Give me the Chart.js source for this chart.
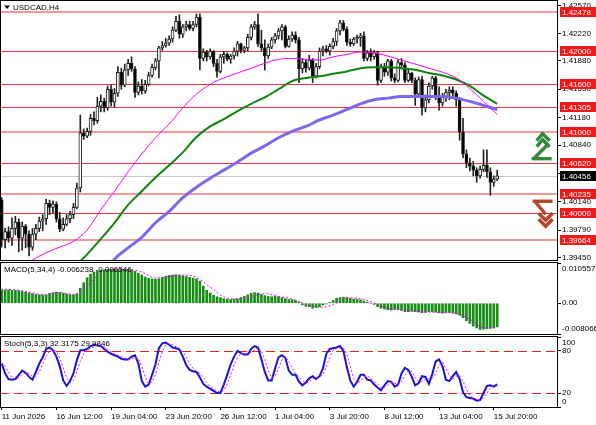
<!DOCTYPE html>
<html>
<head>
<meta charset="utf-8">
<title>USDCAD,H4</title>
<script src="https://cdn.jsdelivr.net/npm/chart.js@4.4.1/dist/chart.umd.min.js"></script>
<style>
  html, body { margin:0; padding:0; background:#fff; }
  body { position:relative; width:596px; height:425px; overflow:hidden; }
  canvas { position:absolute; left:0; }
</style>
</head>
<body>
<canvas id="mainChart" width="596" height="261" style="top:0px"></canvas>
<canvas id="macdChart" width="596" height="73" style="top:262px"></canvas>
<canvas id="stochChart" width="596" height="89" style="top:336px"></canvas>
<script>
// ---------------- DATA ----------------
const symbolTitle = "USDCAD,H4";
const macdTitle = "MACD(5,34,4) -0.006238 -0.006546";
const stochTitle = "Stoch(5,3,3) 32.3175 29.9846";

const xTickLabels = ["11 Jun 2026","16 Jun 12:00","19 Jun 04:00","23 Jun 20:00","26 Jun 12:00",
  "1 Jul 04:00","3 Jul 20:00","8 Jul 12:00","13 Jul 04:00","15 Jul 20:00"];
const barsPerXTick = 16;

const opens = [
1.4016,1.3967,1.3977,1.3969,1.3981,1.3989,1.3969,1.3984,1.3974,1.3958,
1.3974,1.3981,1.3990,1.3993,1.4012,1.4007,1.4011,1.3993,1.3980,1.3986,
1.3993,1.3998,1.4007,1.4031,1.4099,1.4095,1.4101,1.4117,1.4114,1.4132,
1.4138,1.4130,1.4153,1.4137,1.4148,1.4174,1.4158,1.4177,1.4185,1.4178,
1.4149,1.4157,1.4151,1.4159,1.4170,1.4180,1.4188,1.4204,1.4207,1.4210,
1.4215,1.4226,1.4237,1.4221,1.4230,1.4233,1.4228,1.4233,1.4242,1.4191,
1.4199,1.4193,1.4200,1.4185,1.4175,1.4193,1.4196,1.4190,1.4194,1.4200,
1.4209,1.4201,1.4204,1.4217,1.4230,1.4233,1.4209,1.4204,1.4194,1.4205,
1.4214,1.4219,1.4225,1.4230,1.4206,1.4215,1.4220,1.4214,1.4178,1.4186,
1.4179,1.4189,1.4169,1.4181,1.4200,1.4203,1.4200,1.4206,1.4212,1.4225,
1.4235,1.4227,1.4211,1.4209,1.4215,1.4217,1.4219,1.4191,1.4198,1.4193,
1.4198,1.4164,1.4180,1.4174,1.4188,1.4167,1.4164,1.4186,1.4183,1.4164,
1.4173,1.4164,1.4147,1.4165,1.4130,1.4140,1.4157,1.4167,1.4144,1.4136,
1.4144,1.4149,1.4152,1.4148,1.4140,1.4100,1.4073,1.4062,1.4058,1.4053,
1.4046,1.4054,1.4059,1.4051,1.4038,1.4042];
const highs = [
1.4019,1.3981,1.3983,1.3994,1.3996,1.3993,1.3989,1.3986,1.3978,1.3981,
1.3986,1.3995,1.3998,1.4017,1.4016,1.4015,1.4014,1.4001,1.3994,1.3998,
1.4002,1.4012,1.4037,1.4121,1.4104,1.4105,1.4122,1.4125,1.4143,1.4146,
1.4142,1.4157,1.4158,1.4154,1.4181,1.4179,1.4184,1.4190,1.4193,1.4181,
1.4162,1.4165,1.4164,1.4174,1.4184,1.4191,1.4206,1.4212,1.4216,1.4219,
1.4230,1.4243,1.4245,1.4233,1.4237,1.4237,1.4237,1.4246,1.4246,1.4203,
1.4201,1.4203,1.4201,1.4190,1.4196,1.4200,1.4198,1.4196,1.4204,1.4212,
1.4210,1.4206,1.4221,1.4233,1.4237,1.4246,1.4226,1.4214,1.4209,1.4217,
1.4222,1.4228,1.4233,1.4232,1.4219,1.4224,1.4224,1.4217,1.4191,1.4189,
1.4195,1.4191,1.4185,1.4204,1.4206,1.4207,1.4209,1.4216,1.4228,1.4238,
1.4238,1.4230,1.4215,1.4217,1.4220,1.4222,1.4224,1.4201,1.4203,1.4201,
1.4200,1.4184,1.4185,1.4190,1.4190,1.4172,1.4189,1.4191,1.4186,1.4177,
1.4174,1.4167,1.4168,1.4169,1.4146,1.4161,1.4169,1.4169,1.4156,1.4148,
1.4153,1.4156,1.4156,1.4151,1.4143,1.4117,1.4078,1.4068,1.4064,1.4056,
1.4058,1.4078,1.4078,1.4056,1.4046,1.4053];
const lows = [
1.3958,1.3957,1.3964,1.3960,1.3973,1.3952,1.3954,1.3957,1.3947,1.3954,
1.3967,1.3977,1.3978,1.3986,1.3998,1.4000,1.3989,1.3977,1.3978,1.3984,
1.3988,1.3993,1.4005,1.4026,1.4091,1.4093,1.4096,1.4109,1.4111,1.4125,
1.4125,1.4127,1.4132,1.4131,1.4144,1.4153,1.4156,1.4170,1.4175,1.4143,
1.4146,1.4147,1.4148,1.4157,1.4168,1.4177,1.4167,1.4201,1.4205,1.4207,
1.4211,1.4224,1.4216,1.4217,1.4225,1.4226,1.4225,1.4230,1.4177,1.4188,
1.4188,1.4190,1.4181,1.4168,1.4173,1.4185,1.4188,1.4185,1.4190,1.4194,
1.4198,1.4198,1.4200,1.4214,1.4227,1.4206,1.4200,1.4177,1.4191,1.4203,
1.4210,1.4215,1.4214,1.4204,1.4205,1.4212,1.4210,1.4161,1.4173,1.4174,
1.4177,1.4161,1.4167,1.4178,1.4194,1.4198,1.4195,1.4203,1.4207,1.4220,
1.4225,1.4207,1.4206,1.4207,1.4210,1.4206,1.4188,1.4188,1.4188,1.4190,
1.4158,1.4161,1.4169,1.4170,1.4163,1.4161,1.4162,1.4178,1.4161,1.4162,
1.4161,1.4133,1.4145,1.4121,1.4125,1.4136,1.4153,1.4140,1.4127,1.4132,
1.4138,1.4140,1.4144,1.4132,1.4090,1.4068,1.4056,1.4052,1.4046,1.4038,
1.4043,1.4051,1.4044,1.4022,1.4033,1.4040];
const closes = [
1.3967,1.3977,1.3969,1.3981,1.3989,1.3969,1.3984,1.3974,1.3958,1.3974,
1.3981,1.3990,1.3993,1.4012,1.4007,1.4011,1.3993,1.3980,1.3986,1.3993,
1.3998,1.4007,1.4031,1.4099,1.4095,1.4101,1.4117,1.4114,1.4132,1.4138,
1.4130,1.4153,1.4137,1.4148,1.4174,1.4158,1.4177,1.4185,1.4178,1.4149,
1.4157,1.4151,1.4159,1.4170,1.4180,1.4188,1.4204,1.4207,1.4210,1.4215,
1.4226,1.4237,1.4221,1.4230,1.4233,1.4228,1.4233,1.4242,1.4191,1.4199,
1.4193,1.4200,1.4185,1.4175,1.4193,1.4196,1.4190,1.4194,1.4200,1.4209,
1.4201,1.4204,1.4217,1.4230,1.4233,1.4209,1.4204,1.4194,1.4205,1.4214,
1.4219,1.4225,1.4230,1.4206,1.4215,1.4220,1.4214,1.4178,1.4186,1.4179,
1.4189,1.4169,1.4181,1.4200,1.4203,1.4200,1.4206,1.4212,1.4225,1.4235,
1.4227,1.4211,1.4209,1.4215,1.4217,1.4219,1.4191,1.4198,1.4193,1.4198,
1.4164,1.4180,1.4174,1.4188,1.4167,1.4164,1.4186,1.4183,1.4164,1.4173,
1.4164,1.4147,1.4165,1.4130,1.4140,1.4157,1.4167,1.4144,1.4136,1.4144,
1.4149,1.4152,1.4148,1.4140,1.4100,1.4073,1.4062,1.4058,1.4053,1.4046,
1.4054,1.4059,1.4051,1.4038,1.4042,1.4046];

// moving averages, one reading every 4 bars starting at bar 1
const maFirstBar = 1, maStep = 4;
const maPink = [1.3927,1.3933,1.3942,1.3951,1.3958,1.3965,1.3979,1.4004,1.4027,1.4051,
  1.4073,1.4093,1.4110,1.4130,1.4147,1.4159,1.4167,1.4173,1.4179,1.4185,
  1.4190,1.4191,1.4190,1.4189,1.4193,1.4196,1.4199,1.4198,1.4194,1.4189,
  1.4184,1.4179,1.4174,1.4167,1.4154,1.4138,1.4122];
const maGreen = [null,null,null,1.3880,1.3911,1.3932,1.3949,1.3968,1.3988,1.4010,
  1.4027,1.4044,1.4059,1.4075,1.4094,1.4107,1.4116,1.4126,1.4135,1.4143,
  1.4153,1.4163,1.4167,1.4169,1.4172,1.4175,1.4179,1.4180,1.4180,1.4179,
  1.4177,1.4173,1.4170,1.4165,1.4157,1.4145,1.4135];
const maBlue = [null,null,null,null,null,null,1.3893,1.3917,1.3943,1.3957,
  1.3970,1.3988,1.4002,1.4019,1.4032,1.4043,1.4053,1.4063,1.4074,1.4083,
  1.4093,1.4101,1.4107,1.4115,1.4121,1.4128,1.4135,1.4140,1.4142,1.4144,
  1.4144,1.4144,1.4144,1.4142,1.4138,1.4133,1.4128];

const priceTicks = [1.42570,1.42220,1.41880,1.41530,1.41180,1.40840,1.40490,1.40140,1.39790,1.39450];
const levelValues = [1.42478,1.42000,1.41600,1.41305,1.41000,1.40620,1.40235,1.40000,1.39664];
const lastPrice = 1.40456;
const signalArrows = [{bar:158, price:1.4082, dir:'up'}, {bar:158, price:1.4001, dir:'down'}];

const macdHist = [
0.0036,0.0035,0.0035,0.0034,0.0034,
0.0033,0.0031,0.0029,0.0027,0.0025,0.0023,0.0022,0.0021,0.0022,
0.0026,0.0028,0.0029,0.0028,
0.0026,0.0024,0.0023,0.0022,0.0024,
0.0039,0.0054,0.0067,0.0076,0.0082,
0.0085,0.0087,0.0088,0.0089,0.0089,0.0089,0.0089,0.0090,0.0089,0.0089,0.0087,0.0084,
0.0079,0.0074,0.0069,0.0066,
0.0064,0.0063,0.0064,
0.0068,0.0071,0.0073,0.0074,0.0075,0.0074,
0.0072,0.0070,0.0068,0.0066,0.0064,0.0058,
0.0045,0.0034,0.0027,
0.0021,0.0017,0.0015,
0.0012,0.0011,0.0010,0.0011,0.0012,0.0015,0.0018,
0.0022,0.0026,0.0028,0.0027,
0.0023,0.0020,0.0018,0.0017,0.0018,0.0017,
0.0015,0.0012,0.0010,0.0009,0.0007,0.0003,
-0.0004,-0.0008,-0.0009,
-0.0013,-0.0011,-0.0009,
-0.0005,-0.0002,0.0002,0.0007,
0.0013,0.0015,0.0016,
0.0015,0.0013,0.0011,0.0010,0.0009,0.0006,
0.0003,0.0000,-0.0003,-0.0009,
-0.0013,-0.0015,-0.0017,-0.0018,-0.0016,
-0.0017,-0.0019,-0.0022,-0.0022,-0.0021,-0.0022,-0.0023,-0.0025,
-0.0024,-0.0022,-0.0022,-0.0023,-0.0025,-0.0026,-0.0025,-0.0024,
-0.0026,-0.0028,-0.0031,
-0.0038,-0.0046,-0.0053,
-0.0060,-0.0065,-0.0069,
-0.0068,-0.0067,-0.0066,-0.0064,-0.0062];
const macdSignal = [0.0037,0.0034,0.0027,0.0022,0.0028,0.0023,0.0045,0.0080,0.0089,0.0089,
  0.0082,0.0066,0.0070,0.0074,0.0068,0.0042,0.0017,0.0011,0.0018,0.0025,
  0.0018,0.0011,-0.0002,-0.0011,-0.0004,0.0014,0.0012,0.0001,-0.0014,-0.0017,
  -0.0021,-0.0023,-0.0024,-0.0027,-0.0042,-0.0064,-0.0065];
const macdTicks = [0.010557, 0, -0.008066];
const macdTickText = ["0.010557", "0.00", "-0.008066"];

const stochMain = [
62,48,40,39,40,46,52,49,43,39,
50,62,71,83,85,81,72,58,38,30,
37,48,67,81,81,83,87,89,88,87,
83,79,76,74,72,69,68,68,72,74,
62,37,29,32,46,61,84,91,92,89,
85,84,82,72,60,53,51,50,42,33,
29,26,23,20,20,32,46,61,72,80,
77,75,75,83,87,85,68,50,38,38,
55,71,74,70,52,46,46,36,31,35,
41,44,40,44,55,76,83,84,85,87,
80,57,38,29,36,46,46,39,38,32,
28,24,31,37,36,29,32,48,56,53,
43,31,34,44,43,33,47,65,68,58,
39,37,44,50,40,21,14,13,12,9,
10,20,30,31,29,32.3175];
const stochSignal = [
64,58,50,42,40,42,46,49,48,44,
44,50,61,72,80,83,79,70,56,42,
35,38,51,65,76,82,84,86,88,88,
86,83,79,76,74,72,70,68,69,71,
69,58,43,33,36,46,64,79,89,91,
89,86,84,79,71,62,55,51,48,42,
35,29,26,23,21,24,33,46,60,71,
76,77,76,78,82,85,80,68,52,42,
44,55,67,72,65,56,48,43,38,34,
36,40,42,43,46,58,71,81,84,85,
84,75,58,41,34,37,43,44,41,36,
33,28,28,31,35,34,32,36,45,52,
51,42,36,36,40,40,41,48,60,64,
55,45,40,44,45,37,25,16,13,11,
10,13,20,27,30,29.9846];
const stochLevels = [80, 20];
const stochTicks = [100, 80, 20, 0];

// ---------------- LAYOUT / STYLE ----------------
const FONT_FAMILY = '"Liberation Sans", Arial, sans-serif';
const FONT = '8px ' + FONT_FAMILY;
const AXIS_W = 39;
const rightShiftBars = 17;
const SLOTS = opens.length + rightShiftBars;
const levelWidths = [2,1,1,1,2,1,2,1,2];
const levelColors = levelWidths.map(w => w === 2 ? '#f29a9a' : '#e23a3a');

Chart.defaults.font.family = FONT_FAMILY;
Chart.defaults.font.size = 8;
Chart.defaults.color = '#000';

function sparse(arr, first, step) {
  const out = [];
  arr.forEach((v, k) => { if (v !== null) out.push({x: first + k * step, y: v}); });
  return out;
}
function series(arr) { return arr.map((v, i) => ({x: i, y: v})); }

function drawArrow(ctx, cx, cy, dir, color) {
  const segs = dir === 'up' ? [
    [[-5,-6],[1,-13],[8,-6]],
    [[-5,0],[1,-7],[8,0]],
    [[5,-1],[-7,11]],
    [[-10,12],[10,12]]
  ] : [
    [[-9,-11],[11,-11]],
    [[-6,-10],[4,2]],
    [[-3,1],[4,8],[11,1]],
    [[-3,7],[4,14],[11,7]]
  ];
  ctx.save();
  ctx.translate(cx, cy);
  ctx.strokeStyle = color; ctx.lineWidth = 3.4; ctx.lineJoin = 'miter'; ctx.lineCap = 'butt';
  ctx.setLineDash([]);
  segs.forEach(s => { ctx.beginPath(); ctx.moveTo(s[0][0], s[0][1]); for (let k = 1; k < s.length; k++) ctx.lineTo(s[k][0], s[k][1]); ctx.stroke(); });
  ctx.restore();
}

const mtPlugin = {
  id: 'mt',
  beforeDatasetsDraw(chart, args, o) {
    const ctx = chart.ctx, a = chart.chartArea, y = chart.scales.y;
    ctx.save();
    (o.hlines || []).forEach(h => {
      const py = Math.round(y.getPixelForValue(h.value)) + (h.width % 2 ? 0.5 : 0);
      ctx.strokeStyle = h.color; ctx.lineWidth = h.width; ctx.setLineDash(h.dash || []);
      ctx.beginPath(); ctx.moveTo(a.left, py); ctx.lineTo(a.right, py); ctx.stroke();
    });
    ctx.restore();
  },
  afterDraw(chart, args, o) {
    const ctx = chart.ctx, a = chart.chartArea, y = chart.scales.y, x = chart.scales.x;
    ctx.save();
    ctx.setLineDash([]);
    ctx.strokeStyle = '#000'; ctx.lineWidth = 1;
    ctx.strokeRect(a.left + 0.5, a.top - 0.5, a.right - a.left, a.bottom - a.top + 1);
    ctx.font = FONT; ctx.textBaseline = 'middle'; ctx.textAlign = 'left'; ctx.fillStyle = '#000';
    (o.ticks || []).forEach((v, i) => {
      let py = y.getPixelForValue(v);
      py = Math.max(a.top + o.padTop, Math.min(a.bottom - o.padBottom, py));
      ctx.fillText(o.tickText[i], a.right + 5, py);
    });
    (o.boxes || []).forEach(b => {
      const py = Math.round(y.getPixelForValue(b.value));
      ctx.fillStyle = b.bg; ctx.fillRect(a.right + 3, py - 5, chart.width - a.right - 3, 10);
      ctx.fillStyle = b.fg; ctx.fillText(b.text, a.right + 5, py + 0.5);
    });
    (o.arrows || []).forEach(ar => drawArrow(ctx, x.getPixelForValue(ar.bar), y.getPixelForValue(ar.price), ar.dir, ar.color));
    if (o.title) {
      let tx = a.left + 4;
      const ty = a.top + 6.5;
      ctx.fillStyle = '#000';
      if (o.triangle) {
        ctx.beginPath(); ctx.moveTo(tx, ty - 2); ctx.lineTo(tx + 6, ty - 2); ctx.lineTo(tx + 3, ty + 1.5); ctx.closePath(); ctx.fill();
        tx += 9;
      }
      ctx.fillText(o.title, tx, ty);
    }
    ctx.restore();
  }
};

function yAxis(min, max, tickValues) {
  return {
    type: 'linear', position: 'right', min: min, max: max,
    afterBuildTicks: s => { s.ticks = tickValues.map(v => ({value: v})); },
    afterFit: s => { s.width = AXIS_W; s.paddingTop = 0; s.paddingBottom = 0; },
    ticks: { display: false },
    grid: { drawOnChartArea: false, drawTicks: true, tickLength: 4, color: '#000', lineWidth: 1 },
    border: { display: true, color: '#000', width: 1 }
  };
}
const hiddenX = { type: 'linear', min: -0.5, max: SLOTS - 0.5, offset: false, display: false,
                  grid: { offset: false } };
const baseOpts = {
  responsive: false, animation: false, events: [],
  plugins: { legend: { display: false }, tooltip: { enabled: false } }
};

// ---------------- MAIN PRICE CHART ----------------
const bodyColors = opens.map((o, i) => closes[i] >= o ? '#ffffff' : '#000000');
const hlines = levelValues.map((v, i) => ({value: v, color: levelColors[i], width: levelWidths[i]}));
hlines.push({value: lastPrice, color: '#c8c8c8', width: 1});
const boxes = levelValues.map(v => ({value: v, text: v.toFixed(5), bg: '#f01818', fg: '#ffffff'}));
boxes.push({value: lastPrice, text: lastPrice.toFixed(5), bg: '#000000', fg: '#ffffff'});

new Chart(document.getElementById('mainChart'), {
  type: 'bar',
  data: {
    datasets: [
      { type: 'line', data: sparse(maPink, maFirstBar, maStep), borderColor: '#ff00ff', borderWidth: 1,
        pointRadius: 0, cubicInterpolationMode: 'monotone', clip: 0, order: 1 },
      { type: 'line', data: sparse(maGreen, maFirstBar, maStep), borderColor: '#0d850d', borderWidth: 2,
        pointRadius: 0, cubicInterpolationMode: 'monotone', clip: 0, order: 1 },
      { type: 'line', data: sparse(maBlue, maFirstBar, maStep), borderColor: '#7b68ee', borderWidth: 3,
        pointRadius: 0, cubicInterpolationMode: 'monotone', clip: 0, order: 1 },
      { type: 'bar', data: opens.map((o, i) => ({x: i, y: [o, closes[i]]})), backgroundColor: bodyColors,
        borderColor: '#1a1a1a', borderWidth: 1, borderSkipped: false, barThickness: 3, grouped: false, order: 2 },
      { type: 'bar', data: highs.map((h, i) => ({x: i, y: [lows[i], h]})), backgroundColor: '#222222',
        borderWidth: 0, barThickness: 1, grouped: false, order: 3 }
    ]
  },
  options: Object.assign({}, baseOpts, {
    layout: { padding: { top: 1, bottom: 1, left: 0, right: 0 } },
    scales: { x: hiddenX, y: yAxis(1.3942, 1.4262, priceTicks) },
    plugins: Object.assign({}, baseOpts.plugins, {
      mt: { hlines: hlines, ticks: priceTicks, tickText: priceTicks.map(v => v.toFixed(5)),
            padTop: 5, padBottom: -4, boxes: boxes, title: symbolTitle, triangle: true,
            arrows: signalArrows.map(a => ({bar: a.bar, price: a.price, dir: a.dir,
                    color: a.dir === 'up' ? '#2f8a3c' : '#b5452b'})) }
    })
  }),
  plugins: [mtPlugin]
});

// ---------------- MACD ----------------
new Chart(document.getElementById('macdChart'), {
  type: 'bar',
  data: {
    datasets: [
      { type: 'line', data: sparse(macdSignal, maFirstBar, maStep), borderColor: '#ff00ff', borderWidth: 1,
        borderDash: [2, 2], pointRadius: 0, cubicInterpolationMode: 'monotone', clip: 0, order: 1 },
      { type: 'bar', data: series(macdHist), backgroundColor: '#178f17', borderWidth: 0,
        barThickness: 2, grouped: false, order: 2 }
    ]
  },
  options: Object.assign({}, baseOpts, {
    layout: { padding: { top: 1, bottom: 1, left: 0, right: 0 } },
    scales: { x: hiddenX, y: yAxis(-0.008066, 0.010557, macdTicks) },
    plugins: Object.assign({}, baseOpts.plugins, {
      mt: { ticks: macdTicks, tickText: macdTickText, padTop: 6, padBottom: 5, title: macdTitle }
    })
  }),
  plugins: [mtPlugin]
});

// ---------------- STOCHASTIC ----------------
new Chart(document.getElementById('stochChart'), {
  type: 'line',
  data: {
    datasets: [
      { data: series(stochSignal), borderColor: '#ff00ff', borderWidth: 1, borderDash: [2, 2],
        pointRadius: 0, tension: 0, clip: 0 },
      { data: series(stochMain), borderColor: '#1515d6', borderWidth: 2,
        pointRadius: 0, tension: 0, clip: 0 }
    ]
  },
  options: Object.assign({}, baseOpts, {
    layout: { padding: { top: 1, bottom: 0, left: 0, right: 0 } },
    scales: {
      x: {
        type: 'linear', position: 'bottom', min: -0.5, max: SLOTS - 0.5, offset: false,
        afterBuildTicks: s => { s.ticks = xTickLabels.map((t, k) => ({value: k * barsPerXTick})); },
        afterFit: s => { s.height = 18; s.paddingLeft = 0; s.paddingRight = 0; },
        ticks: { callback: (v, i) => xTickLabels[i], align: 'start', autoSkip: false,
                 maxRotation: 0, minRotation: 0, padding: 2, color: '#000', font: { size: 8 } },
        grid: { drawOnChartArea: false, drawTicks: true, tickLength: 3, color: '#000' },
        border: { display: true, color: '#000' }
      },
      y: yAxis(0, 100, stochTicks)
    },
    plugins: Object.assign({}, baseOpts.plugins, {
      mt: { hlines: stochLevels.map(v => ({value: v, color: '#e8201c', width: 1, dash: [9, 5]})),
            ticks: stochTicks, tickText: stochTicks.map(String), padTop: 6, padBottom: 5, title: stochTitle }
    })
  }),
  plugins: [mtPlugin]
});
</script>
</body>
</html>
